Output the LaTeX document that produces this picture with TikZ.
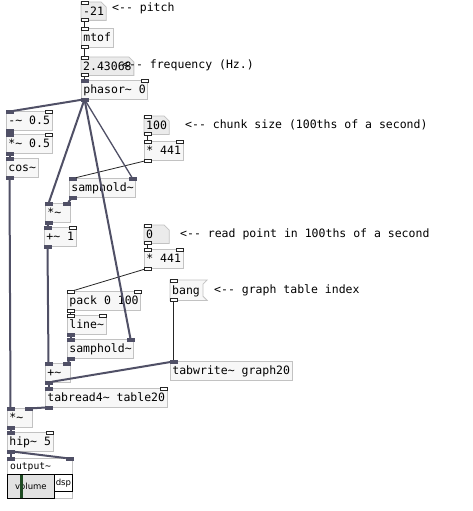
\documentclass[tikz,border=0pt]{standalone}
\usepackage{fontspec}
\usepackage{tikz}
\usetikzlibrary{backgrounds}
\newfontfamily\pdfont{DejaVu Sans Mono}
\newfontfamily\pdsans{DejaVu Sans}
\definecolor{boxline}{HTML}{C2C2C2}
\definecolor{boxfill}{HTML}{F7F7F7}
\definecolor{atomfill}{HTML}{EBEBEB}
\definecolor{sigwire}{HTML}{505066}
\definecolor{ctlwire}{HTML}{262626}
\definecolor{sliderfill}{HTML}{E2E2E2}
\definecolor{slidergreen}{HTML}{1E4B22}
\newcommand{\tld}{\char"7E\relax}

\tikzset{
  pdtext/.style={font=\pdfont\fontsize{11.5}{13}\selectfont, text height=11pt, text depth=3pt, inner xsep=2pt, inner ysep=0pt},
  obj/.style={pdtext, draw=boxline, fill=boxfill, line width=0.8pt, anchor=north west, minimum height=19pt},
  atom/.style={pdtext, anchor=north west, minimum height=18pt},
  atomedge/.style={draw=boxline, fill=atomfill, line width=0.8pt},
  msg/.style={pdtext, anchor=north west, minimum height=20pt},
  note/.style={pdtext, inner xsep=0pt, anchor=west},
  port/.style={line width=0.6pt, minimum width=7pt, minimum height=3pt, inner sep=0pt, outer sep=0pt},
  ctlport/.style={port, draw=ctlwire, fill=white},
  sigport/.style={port, draw=sigwire, fill=sigwire},
  inl/.style={anchor=north west, yshift=1pt},
  inr/.style={anchor=north east, yshift=1pt},
  outl/.style={anchor=south west, yshift=-1pt},
  ctlcord/.style={draw=ctlwire, line width=0.8pt},
  sigcord/.style={draw=sigwire, line width=2pt}
}

\begin{document}
\begin{tikzpicture}[x=1pt, y=-1pt]
\useasboundingbox (0,0) rectangle (473,511);

% Pitch -> frequency -> phasor
\node[atom] (pitch) at (81,2) {-21};
\node[obj] (mtof) at (81,28) {mtof};
\node[atom] (freq) at (81,57) {2.43068};
\node[obj] (phasor) at (81,80) {phasor\tld{} 0};
\node[note] (pitchnote) at (112,8) {<-{}- pitch};
\node[note] (freqnote) at (122,65) {<-{}- frequency (Hz.)};

% Window: cosine of the phase
\node[obj] (offset) at (6,111) {-\tld{} 0.5};
\node[obj] (scale) at (6,134) {*\tld{} 0.5};
\node[obj] (cos) at (6,158) {cos\tld};

% Chunk size
\node[atom] (chunk) at (144,116) {100};
\node[obj] (chunkmul) at (144,141) {* 441};
\node[note] (chunknote) at (185,124) {<-{}- chunk size (100ths of a second)};
\node[obj] (hold1) at (69,178) {samphold\tld};
\node[obj] (mulwin) at (45,203) {*\tld\hphantom{0}};
\node[obj] (plus1) at (44,227) {+\tld{} 1};

% Read point
\node[atom] (readpt) at (144,225) {0\hphantom{00}};
\node[obj] (readmul) at (144,249) {* 441};
\node[note] (readnote) at (180,233) {<-{}- read point in 100ths of a second};
\node[obj] (pack) at (67,291) {pack 0 100};
\node[obj] (line) at (67,315) {line\tld};
\node[obj] (hold2) at (67,339) {samphold\tld};
\node[obj] (plus2) at (45,363) {+\tld\hphantom{0}};

% Graph index
\node[msg] (bang) at (170,280) {bang};
\node[note] (bangnote) at (214,289) {<-{}- graph table index};
\node[obj] (tabw) at (170,361) {tabwrite\tld{} graph20};

% Table lookup and output
\node[obj] (tabr) at (45,388) {tabread4\tld{} table20};
\node[obj] (env) at (7,408) {*\tld\hphantom{0}};
\node[obj] (hip) at (7,432) {hip\tld{} 5};

\node[draw=boxline, fill=white, line width=0.8pt, anchor=north west, minimum width=65pt, minimum height=40pt, inner sep=0pt] (output) at (7,458) {};
\node[font=\pdfont\fontsize{9.7}{11}\selectfont, anchor=west, inner sep=0pt] (outlabel) at (10,467) {output\tld};
\node[draw=black, fill=sliderfill, line width=0.8pt, anchor=north west, minimum width=47pt, minimum height=24pt, inner sep=0pt, font=\pdsans\fontsize{8.5}{10}\selectfont] (volume) at (7,474) {volume};
\draw[slidergreen, line width=2.4pt] ([xshift=14.5pt, yshift=-0.5pt]volume.north west) -- ([xshift=14.5pt, yshift=0.5pt]volume.south west);
\node[draw=black, fill=white, line width=0.8pt, anchor=north west, minimum width=18pt, minimum height=17pt, inner sep=0pt, font=\pdsans\fontsize{8.5}{10}\selectfont] (dsp) at (54,474) {dsp};

% Inlets and outlets
\foreach \b in {pitch,mtof,freq,chunk,chunkmul,readpt,readmul,pack,bang,line}
  \node[ctlport, inl] (\b-i0) at (\b.north west) {};
\foreach \b in {phasor,offset,scale,cos,hold1,mulwin,plus1,hold2,plus2,tabw,tabr,env,hip,output}
  \node[sigport, inl] (\b-i0) at (\b.north west) {};
\foreach \b in {phasor,offset,scale,chunkmul,plus1,readmul,pack,line,tabr,hip}
  \node[ctlport, inr] (\b-i1) at (\b.north east) {};
\foreach \b in {hold1,mulwin,hold2,plus2,env,output}
  \node[sigport, inr] (\b-i1) at (\b.north east) {};
\foreach \b in {pitch,mtof,freq,chunk,chunkmul,readpt,readmul,pack,bang}
  \node[ctlport, outl] (\b-o0) at (\b.south west) {};
\foreach \b in {phasor,offset,scale,cos,hold1,mulwin,plus1,line,hold2,plus2,tabr,env,hip}
  \node[sigport, outl] (\b-o0) at (\b.south west) {};

% Control connections
\foreach \a/\b in {pitch-o0/mtof-i0, mtof-o0/freq-i0, freq-o0/phasor-i0,
    chunk-o0/chunkmul-i0, chunkmul-o0/hold1-i0, readpt-o0/readmul-i0,
    readmul-o0/pack-i0, pack-o0/line-i0, bang-o0/tabw-i0}
  \draw[ctlcord] (\a) -- (\b);

% Signal connections
\draw[sigcord, line width=1.3pt] (phasor-o0) -- (hold1-i1);
\foreach \a/\b in {phasor-o0/offset-i0, phasor-o0/mulwin-i0,
    phasor-o0/hold2-i1, offset-o0/scale-i0, scale-o0/cos-i0, cos-o0/env-i0,
    hold1-o0/mulwin-i1, mulwin-o0/plus1-i0, plus1-o0/plus2-i0, line-o0/hold2-i0,
    hold2-o0/plus2-i1, plus2-o0/tabw-i0, plus2-o0/tabr-i0, tabr-o0/env-i1,
    env-o0/hip-i0, hip-o0/output-i0, hip-o0/output-i1}
  \draw[sigcord] (\a) -- (\b);

% Number boxes and message box outlines
\begin{scope}[on background layer]
  \fill[white] (0,0) rectangle (473,511);
  \foreach \a in {pitch,freq,chunk,readpt}
    \draw[atomedge] (\a.north west) -- ([xshift=-5pt]\a.north east) -- ([yshift=-5pt]\a.north east) -- (\a.south east) -- (\a.south west) -- cycle;
  \draw[atomedge, fill=boxfill] (bang.north west) -- ([xshift=5pt]bang.north east) -- ([xshift=1pt, yshift=-4pt]bang.north east) -- ([xshift=1pt, yshift=4pt]bang.south east) -- ([xshift=5pt]bang.south east) -- (bang.south west) -- cycle;
\end{scope}

\end{tikzpicture}
\end{document}
